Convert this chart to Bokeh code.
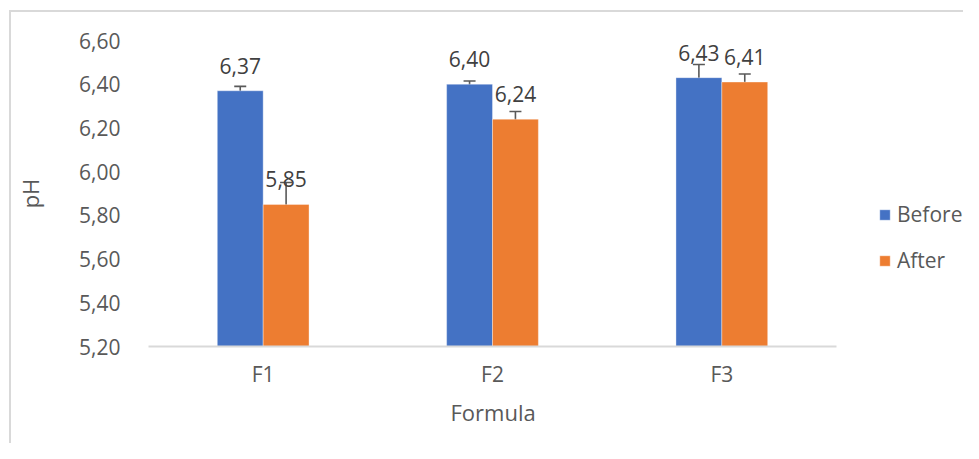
from bokeh.plotting import figure
from bokeh.models import (ColumnDataSource, Range1d, Whisker, TeeHead, Title,
                          Legend, LegendItem, FixedTicker, CustomJSTickFormatter)
from bokeh.transform import dodge
from bokeh.core.properties import value
from bokeh.embed import file_html
from bokeh.resources import INLINE

# ---- data ----
formulas = ["F1", "F2", "F3"]
before = [6.37, 6.40, 6.43]
after = [5.85, 6.24, 6.41]
before_err = [0.02, 0.015, 0.06]
after_err = [0.10, 0.035, 0.037]
y_ticks = [5.20, 5.40, 5.60, 5.80, 6.00, 6.20, 6.40, 6.60]
series_names = ["Before", "After"]
x_title = "Formula"
y_title = "pH"

FONT = "Open Sans"
TXT = "#595959"
BLUE = "#4472C4"
ORANGE = "#ED7D31"
FS = "21px"

def lab(v):
    return f"{v:.2f}".replace(".", ",")

# categorical positions on a numeric axis (category i centred at i + 0.5)
pos = [i + 0.5 for i in range(len(formulas))]
n_cat = len(formulas)
legend_room = 0.5538  # extra x-room (in category widths) on the right for the legend

src = ColumnDataSource(dict(
    x=pos,
    before=before, after=after,
    b_lo=[v - e for v, e in zip(before, before_err)],
    b_hi=[v + e for v, e in zip(before, before_err)],
    a_lo=[v - e for v, e in zip(after, after_err)],
    a_hi=[v + e for v, e in zip(after, after_err)],
    b_lab=[lab(v) for v in before],
    a_lab=[lab(v) for v in after],
    base=[y_ticks[0]] * len(formulas),
))

grad = "linear-gradient(#d9d9d9, #d9d9d9)"
p = figure(x_range=Range1d(0, n_cat + legend_room), y_range=Range1d(y_ticks[0], y_ticks[-1]),
           width=963, height=443, output_backend="svg", toolbar_location=None,
           min_border_left=148, min_border_right=0, min_border_top=40, min_border_bottom=97,
           styles={"background-image": f"{grad}, {grad}",
                   "background-size": "2px 100%, 100% 2px",
                   "background-position": "9px 10px, 9px 10px",
                   "background-repeat": "no-repeat"})
p.outline_line_color = None
p.xgrid.visible = False
p.ygrid.visible = False
p.background_fill_color = "white"
p.border_fill_alpha = 0

rb = p.vbar(x=dodge("x", -0.1), top="before", bottom="base", width=0.2,
            source=src, fill_color=BLUE, line_color="white", line_width=0.6, line_alpha=0.6)
ra = p.vbar(x=dodge("x", 0.1), top="after", bottom="base", width=0.2,
            source=src, fill_color=ORANGE, line_color="white", line_width=0.6, line_alpha=0.6)

for lo, hi, off in (("b_lo", "b_hi", -0.1), ("a_lo", "a_hi", 0.1)):
    w = Whisker(base=dodge("x", off), lower=lo, upper=hi, source=src,
                line_color="#595959", line_width=1.6,
                upper_head=TeeHead(size=12, line_color="#595959", line_width=1.6),
                lower_head=TeeHead(size=12, line_color="#595959", line_width=1.6))
    p.add_layout(w)

for col, lcol, off in (("before", "b_lab", -0.1), ("after", "a_lab", 0.1)):
    p.text(x=dodge("x", off), y=col, text=lcol, source=src,
           text_align="center", text_baseline="middle", y_offset=-25,
           text_font=value(FONT), text_font_size=FS, text_color="#404040")

# axes
p.yaxis.ticker = FixedTicker(ticks=y_ticks)
p.yaxis.formatter = CustomJSTickFormatter(code="return tick.toFixed(2).replace('.', ',');")
p.yaxis.axis_line_color = None
p.yaxis.major_tick_line_color = None
p.yaxis.minor_tick_line_color = None
p.yaxis.major_label_standoff = 22
p.yaxis.axis_label = y_title
p.yaxis.axis_label_standoff = 31
p.yaxis.axis_label_text_font = FONT
p.yaxis.axis_label_text_font_size = "22px"
p.yaxis.axis_label_text_font_style = "normal"
p.yaxis.axis_label_text_color = TXT

p.xaxis.ticker = FixedTicker(ticks=pos)
p.xaxis.major_label_overrides = {x: f for x, f in zip(pos, formulas)}
p.xaxis.bounds = (0, n_cat)
p.xaxis.axis_line_color = "#d9d9d9"
p.xaxis.axis_line_width = 2
p.xaxis.major_tick_line_color = None
p.xaxis.minor_tick_line_color = None
p.xaxis.major_label_standoff = 7
for ax in (p.xaxis[0], p.yaxis[0]):
    ax.major_label_text_font = FONT
    ax.major_label_text_font_size = FS
    ax.major_label_text_color = TXT

# x-axis title centred under the category span (not under the legend room)
p.add_layout(Title(text=x_title, align="left", offset=302, standoff=8,
                   text_font=FONT, text_font_size="22px", text_font_style="normal",
                   text_color=TXT), "below")

legend = Legend(items=[LegendItem(label=series_names[0], renderers=[rb]),
                       LegendItem(label=series_names[1], renderers=[ra])],
                location=(730, 72), orientation="vertical",
                glyph_width=13, glyph_height=13, label_height=24, spacing=18,
                label_standoff=6, padding=0, margin=0,
                border_line_color=None, background_fill_alpha=0,
                label_text_font=FONT, label_text_font_size=FS, label_text_color=TXT)
p.add_layout(legend, "center")

open("out.html", "w").write(file_html(p, INLINE))
